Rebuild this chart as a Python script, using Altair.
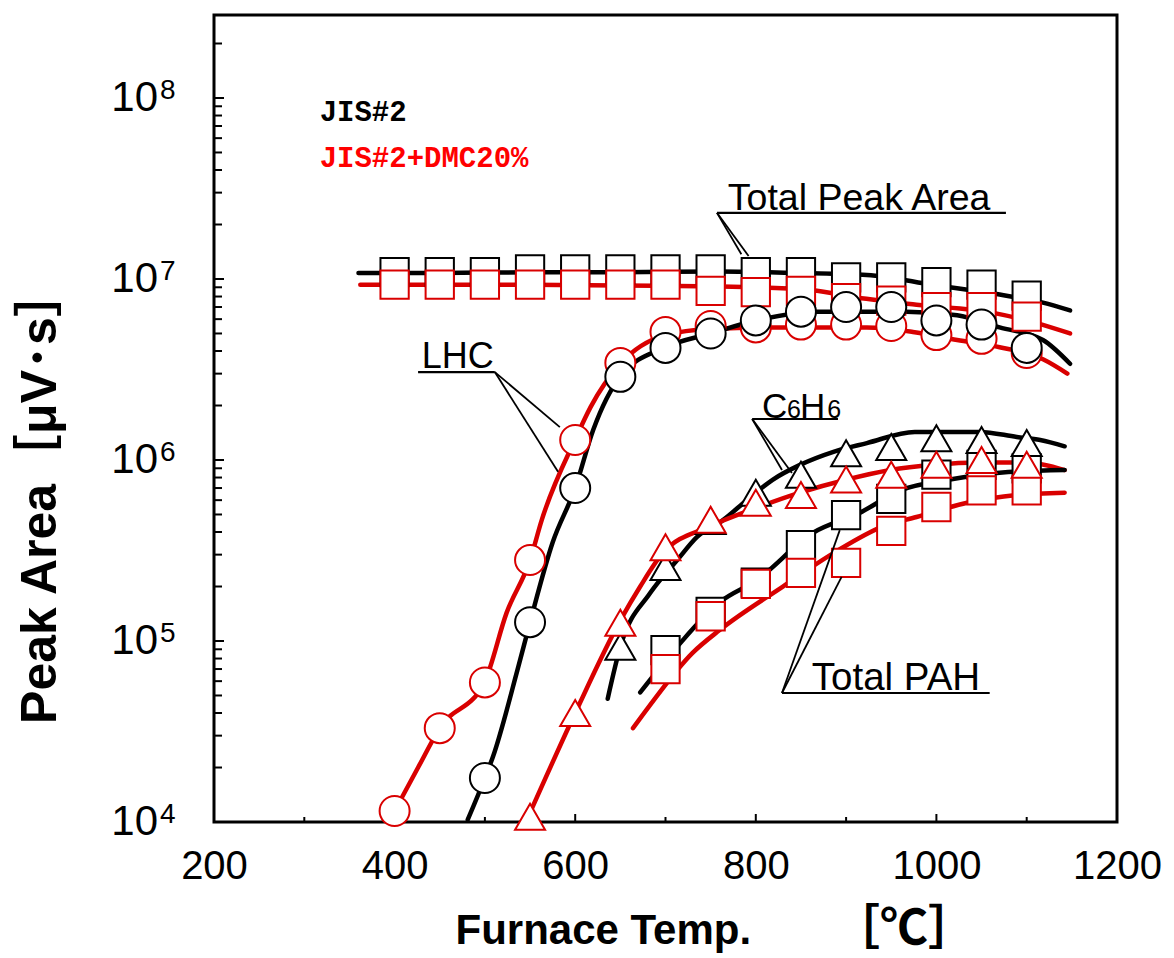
import altair as alt
import pandas as pd

# ---------------- data ----------------
# Total Peak Area (squares)
T_TPA = [400, 450, 500, 550, 600, 650, 700, 750, 800, 850, 900, 950, 1000, 1050, 1100]
TPA_JIS = [1.09e7, 1.09e7, 1.09e7, 1.13e7, 1.13e7, 1.13e7, 1.13e7, 1.13e7, 1.09e7, 1.09e7,
           1.02e7, 1.02e7, 9.6e6, 9.3e6, 8.1e6]
TPA_DMC = [9.3e6, 9.3e6, 9.3e6, 9.3e6, 9.3e6, 9.3e6, 9.3e6, 8.6e6, 8.45e6, 8.6e6,
           7.85e6, 7.6e6, 7.0e6, 7.0e6, 6.2e6]

# LHC (circles)
T_LHC_JIS = [500, 550, 600, 650, 700, 750, 800, 850, 900, 950, 1000, 1050, 1100]
LHC_JIS = [1.75e4, 1.27e5, 7.0e5, 2.88e6, 4.16e6, 5.0e6, 5.9e6, 6.6e6, 7.0e6, 7.0e6, 5.9e6, 5.6e6, 4.16e6]
T_LHC_DMC = [400, 450, 500, 550, 600, 650, 700, 750, 800, 850, 900, 950, 1000, 1050, 1100]
LHC_DMC = [1.15e4, 3.3e4, 5.9e4, 2.8e5, 1.29e6, 3.44e6, 5.1e6, 5.5e6, 5.4e6, 5.6e6, 5.6e6, 5.5e6,
           4.9e6, 4.67e6, 3.9e6]

# C6H6 (triangles)
T_C6_JIS = [650, 700, 750, 800, 850, 900, 950, 1000, 1050, 1100]
C6_JIS = [9.3e4, 2.56e5, 4.6e5, 6.6e5, 8.3e5, 1.09e6, 1.18e6, 1.32e6, 1.29e6, 1.24e6]
T_C6_DMC = [550, 600, 650, 700, 750, 800, 850, 900, 950, 1000, 1050, 1100]
C6_DMC = [1.07e4, 4.0e4, 1.26e5, 3.3e5, 4.67e5, 5.8e5, 6.4e5, 7.8e5, 8.3e5, 9.4e5, 1.0e6, 9.4e5]

# Total PAH (squares)
T_PAH = [700, 750, 800, 850, 900, 950, 1000, 1050, 1100]
PAH_JIS = [8.9e4, 1.45e5, 2.1e5, 3.39e5, 4.96e5, 6.1e5, 8.3e5, 9.4e5, 9.0e5]
PAH_DMC = [7.0e4, 1.37e5, 2.07e5, 2.38e5, 2.7e5, 4.06e5, 5.5e5, 6.8e5, 6.8e5]

# smoothed curves drawn through the data
CT_TPA_JIS = [360, 450, 550, 650, 760, 850, 890, 935, 995, 1070, 1118, 1148]
CV_TPA_JIS = [1.08e7, 1.08e7, 1.09e7, 1.09e7, 1.1e7, 1.08e7, 1.07e7, 1.04e7, 9.3e6, 8.2e6, 7.4e6, 6.7e6]
CT_TPA_DMC = [362, 450, 550, 650, 761, 860, 912, 978, 1063, 1111, 1148]
CV_TPA_DMC = [9.3e6, 9.3e6, 9.3e6, 9.2e6, 9.1e6, 8.7e6, 7.9e6, 7.2e6, 6.5e6, 5.7e6, 5.0e6]

CT_LHC_JIS = [481, 500, 509, 536, 550, 575, 600, 620, 650, 700, 750, 800, 868, 967, 1023, 1070, 1118, 1148]
CV_LHC_JIS = [1.03e4, 1.75e4, 2.3e4, 6.9e4, 1.27e5, 3.5e5, 7.0e5, 1.47e6, 2.9e6, 4.2e6, 5.0e6, 5.9e6,
              6.6e6, 6.6e6, 6.3e6, 5.4e6, 4.6e6, 3.4e6]
CT_LHC_DMC = [400, 426, 450, 500, 524, 550, 563, 600, 617, 650, 700, 750, 823, 923, 974, 1023, 1070, 1118, 1145]
CV_LHC_DMC = [1.15e4, 2.0e4, 3.3e4, 6.0e4, 1.43e5, 2.8e5, 4.67e5, 1.3e6, 1.96e6, 3.4e6, 4.9e6, 5.3e6,
              5.4e6, 5.4e6, 5.1e6, 4.6e6, 4.2e6, 3.6e6, 3.0e6]

CT_C6_JIS = [636, 650, 683, 713, 735, 764, 790, 819, 849, 886, 923, 976, 1048, 1089, 1115, 1142]
CV_C6_JIS = [4.8e4, 9.3e4, 1.84e5, 2.8e5, 3.76e5, 4.67e5, 6.0e5, 7.8e5, 9.4e5, 1.11e6, 1.24e6, 1.43e6,
             1.43e6, 1.34e6, 1.29e6, 1.19e6]
CT_C6_DMC = [548, 600, 650, 672, 697, 749, 799, 849, 901, 949, 996, 1048, 1100, 1142]
CV_C6_DMC = [1.07e4, 4.0e4, 1.3e5, 2.0e5, 3.06e5, 4.3e5, 5.4e5, 6.6e5, 7.8e5, 8.8e5, 9.4e5, 9.7e5, 9.7e5, 8.8e5]

CT_PAH_JIS = [672, 713, 760, 801, 863, 915, 960, 1015, 1070, 1142]
CV_PAH_JIS = [5.2e4, 9.3e4, 1.64e5, 2.17e5, 3.95e5, 5.1e5, 6.8e5, 7.8e5, 8.5e5, 8.8e5]
CT_PAH_DMC = [664, 681, 730, 760, 830, 886, 941, 978, 1034, 1089, 1142]
CV_PAH_DMC = [3.3e4, 4.3e4, 8.6e4, 1.15e5, 2.0e5, 3.06e5, 4.3e5, 4.84e5, 5.8e5, 6.4e5, 6.6e5]

# axis tick values
X_LABELS = [200, 400, 600, 800, 1000, 1200]
X_MAJOR_TICKS = [400, 600, 800, 1000]
X_MINOR_TICKS = [300, 500, 700, 900, 1100]
Y_DECADES = [1e4, 1e5, 1e6, 1e7, 1e8]
Y_EXPONENTS = ["4", "5", "6", "7", "8"]
Y_MINOR_TICKS = [m * 10 ** k for k in range(4, 9) for m in range(2, 10) if m * 10 ** k < 2.8e8]

# callout texts (data coordinates)
CALLOUT_TEXT = ["Total Peak Area", "LHC", "Total PAH"]
CALLOUT_T = [769, 430, 862]
CALLOUT_V = [2.40e7, 3.22e6, 5.36e4]
CALLOUT_SIZE = [37.5, 36, 38.5]
C6H6_PARTS = ["C", "6", "H", "6"]
C6H6_T = [807, 834.5, 849, 879]
C6H6_SIZE = [35, 25, 35, 25]
C6H6_V = 1.71e6
# underlines: (T1, T2, V)
UNDER_T1 = [757, 426, 796, 829]
UNDER_T2 = [1077, 511, 891, 1059]
UNDER_V = [2.32e7, 3.06e6, 1.685e6, 5.16e4]
# leader lines: (T1, V1) -> (T2, V2)
LEAD_T1 = [757, 757, 511, 511, 796, 796, 829, 829]
LEAD_V1 = [2.32e7, 2.32e7, 3.06e6, 3.06e6, 1.685e6, 1.685e6, 5.16e4, 5.16e4]
LEAD_T2 = [792, 784, 583, 581, 840, 829, 893, 895]
LEAD_V2 = [1.34e7, 1.37e7, 1.52e6, 8.6e5, 8.47e5, 8.8e5, 4.1e5, 2.26e5]

LEGEND_TEXT = ["JIS#2", "JIS#2+DMC20%"]
LEGEND_T = [317, 317]
LEGEND_V = [8.38e7, 4.66e7]

X_TITLE = "Furnace Temp."
X_TITLE_UNIT = ["［℃］"]
Y_TITLE = "Peak Area［μV･s］"

BLACK = "#000000"
RED = "#d90000"
FONT = "Liberation Sans, Arial, Noto Sans CJK JP"

# ---------------- scales / encodings ----------------
xscale = alt.Scale(domain=[200, 1200], nice=False, zero=False)
yscale = alt.Scale(type="log", domain=[1e4, 2.874e8], nice=False)

xaxis = alt.Axis(values=X_LABELS, format="d", labelFontSize=40, labelFont=FONT, labelColor="black",
                 labelPadding=24, ticks=False, tickSize=0, domain=False, labelFlush=False,
                 labelOverlap=False, grid=False,
                 title=X_TITLE, titleFont=FONT, titleFontSize=42, titleFontWeight="bold",
                 titleColor="black", titleX=241, titleY=108, titleAlign="left", titleBaseline="middle")
yaxis = alt.Axis(labels=False, ticks=False, tickSize=0, domain=False, grid=False,
                 title=Y_TITLE, titleFont=FONT, titleFontSize=50, titleFontWeight="bold",
                 titleColor="black", titleX=-174, titleY=480, titleAngle=270, titleAlign="center",
                 titleBaseline="middle")

X = alt.X("T:Q", scale=xscale, axis=xaxis)
Y = alt.Y("V:Q", scale=yscale, axis=yaxis)


def curve(ts, vs, color):
    df = pd.DataFrame({"T": ts, "V": vs})
    return alt.Chart(df).mark_line(color=color, strokeWidth=4.5, interpolate="monotone",
                                   strokeCap="round").encode(x=X, y=Y)


def markers(ts, vs, shape, color, size):
    df = pd.DataFrame({"T": ts, "V": vs})
    return alt.Chart(df).mark_point(shape=shape, filled=True, fill="white", fillOpacity=1,
                                    stroke=color, strokeWidth=2, size=size, opacity=1).encode(x=X, y=Y)


lines = [
    curve(CT_TPA_JIS, CV_TPA_JIS, BLACK), curve(CT_TPA_DMC, CV_TPA_DMC, RED),
    curve(CT_LHC_DMC, CV_LHC_DMC, RED), curve(CT_LHC_JIS, CV_LHC_JIS, BLACK),
    curve(CT_C6_JIS, CV_C6_JIS, BLACK), curve(CT_C6_DMC, CV_C6_DMC, RED),
    curve(CT_PAH_JIS, CV_PAH_JIS, BLACK), curve(CT_PAH_DMC, CV_PAH_DMC, RED),
]
SQ = 800
marks = [
    markers(T_TPA, TPA_JIS, "square", BLACK, SQ), markers(T_TPA, TPA_DMC, "square", RED, SQ),
    markers(T_LHC_DMC, LHC_DMC, "circle", RED, 900), markers(T_LHC_JIS, LHC_JIS, "circle", BLACK, 900),
    markers(T_PAH, PAH_JIS, "square", BLACK, SQ), markers(T_C6_JIS, C6_JIS, "triangle-up", BLACK, 900),
    markers(T_PAH, PAH_DMC, "square", RED, SQ), markers(T_C6_DMC, C6_DMC, "triangle-up", RED, 900),
]

# ticks drawn inside the frame
H = 807
xt_major = alt.Chart(pd.DataFrame({"T": X_MAJOR_TICKS})).mark_rule(color="black", strokeWidth=2).encode(
    x=X, y=alt.value(H), y2=alt.value(H - 8))
xt_minor = alt.Chart(pd.DataFrame({"T": X_MINOR_TICKS})).mark_rule(color="black", strokeWidth=2).encode(
    x=X, y=alt.value(H), y2=alt.value(H - 5))
yt_major = alt.Chart(pd.DataFrame({"V": Y_DECADES})).mark_rule(color="black", strokeWidth=2).encode(
    y=Y, x=alt.value(0), x2=alt.value(10))
yt_minor = alt.Chart(pd.DataFrame({"V": Y_MINOR_TICKS})).mark_rule(color="black", strokeWidth=2).encode(
    y=Y, x=alt.value(0), x2=alt.value(8))

# y tick labels 10^n
ylab_df = pd.DataFrame({"V": Y_DECADES, "base": ["10"] * 5, "exp": Y_EXPONENTS})
ylab_base = alt.Chart(ylab_df).mark_text(align="right", baseline="middle", font=FONT, fontSize=42,
                                         color="black").encode(y=Y, x=alt.value(-56), text="base:N")
ylab_exp = alt.Chart(ylab_df).mark_text(align="left", baseline="top", font=FONT, fontSize=28, dy=-21,
                                        color="black").encode(y=Y, x=alt.value(-54), text="exp:N")

# unit part of the x title (drawn a little larger, as in the reference)
xunit = alt.Chart(pd.DataFrame({"u": X_TITLE_UNIT})).mark_text(
    align="left", baseline="middle", font="Noto Sans CJK JP", fontSize=48, fontWeight="bold",
    color="black").encode(x=alt.value(618), y=alt.value(915), text="u:N")

# callouts
callouts = alt.Chart(pd.DataFrame({"T": CALLOUT_T, "V": CALLOUT_V, "txt": CALLOUT_TEXT,
                                   "sz": CALLOUT_SIZE})).mark_text(
    align="left", baseline="alphabetic", font=FONT, color="black").encode(
    x=X, y=Y, text="txt:N", size=alt.Size("sz:Q", scale=None, legend=None))
c6h6 = alt.Chart(pd.DataFrame({"T": C6H6_T, "V": [C6H6_V] * 4, "txt": C6H6_PARTS, "sz": C6H6_SIZE})).mark_text(
    align="left", baseline="alphabetic", font=FONT, color="black").encode(
    x=X, y=Y, text="txt:N", size=alt.Size("sz:Q", scale=None, legend=None))
under = alt.Chart(pd.DataFrame({"T": UNDER_T1, "T2": UNDER_T2, "V": UNDER_V})).mark_rule(
    color="black", strokeWidth=2.2).encode(x=X, x2="T2:Q", y=Y)
leads = alt.Chart(pd.DataFrame({"T": LEAD_T1, "V": LEAD_V1, "T2": LEAD_T2, "V2": LEAD_V2})).mark_rule(
    color="black", strokeWidth=1.8).encode(x=X, y=Y, x2="T2:Q", y2="V2:Q")

legend = alt.Chart(pd.DataFrame({"T": LEGEND_T, "V": LEGEND_V, "txt": LEGEND_TEXT})).mark_text(
    align="left", baseline="middle", font="Liberation Mono", fontSize=29, fontWeight="bold").encode(
    x=X, y=Y, text="txt:N",
    color=alt.Color("txt:N", scale=alt.Scale(domain=LEGEND_TEXT, range=["#000000", "#ff0000"]), legend=None))

chart = alt.layer(
    xt_major, xt_minor, yt_major, yt_minor,
    *lines, *marks,
    under, leads, callouts, c6h6, legend, ylab_base, ylab_exp, xunit,
).properties(
    width=903, height=807,
    autosize=alt.AutoSizeParams(type="none"),
    padding={"left": 214, "top": 15, "right": 57, "bottom": 136},
    background="white",
).configure_view(stroke="black", strokeWidth=3).configure_axis(grid=False)

chart.save("out.html", embed_options={"renderer": "svg", "actions": False})
